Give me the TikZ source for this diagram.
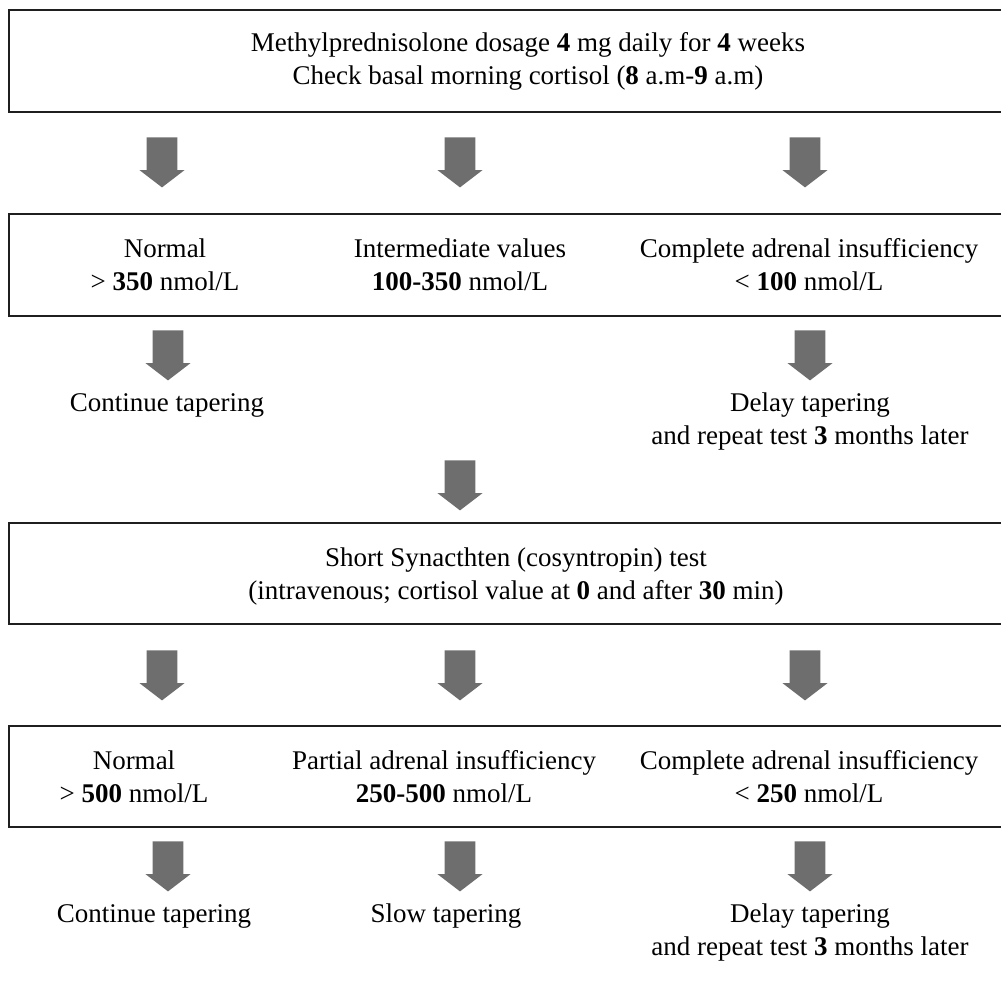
\documentclass[tikz,border=0pt]{standalone}
\usepackage{fontspec}
\setmainfont{Liberation Serif}
\usetikzlibrary{shapes.arrows}
\newcommand{\dg}[1]{\textbf{#1}}
\tikzset{down/.style={single arrow, shape border rotate=270, fill=black!57, draw=none,
    inner sep=7.5pt, minimum height=25pt, minimum width=22pt, anchor=tail,
    single arrow head extend=3.5pt, single arrow tip angle=105, single arrow head indent=0pt},
  frame/.style={minimum width=496pt, minimum height=50.5pt, inner sep=0pt},
  edge/.style={line width=1pt, black!88},
  txt/.style={align=center, inner sep=0pt}}

\begin{document}
\begin{tikzpicture}[x=0.5pt, y=-0.5pt, font=\fontsize{13.5pt}{16.5pt}\selectfont]
  \useasboundingbox (0,0) rectangle (1001,1002);
  % boxes, open at the right edge
  \foreach \b/\y in {b1/61, b2/265, b3/573.5, b4/776.5}{
    \node[frame] (\b) at (505,\y) {};
    \draw[edge] (\b.north east) -- (\b.north west) -- (\b.south west) -- (\b.south east);
  }
  \node[txt] (t1) at (528,61) {Methylprednisolone dosage \dg{4} mg daily for \dg{4} weeks\\Check basal morning cortisol (\dg{8} a.m-\dg{9} a.m)};
  \node[txt] (n1) at (165,265) {Normal\\> \dg{350} nmol/L};
  \node[txt] (i1) at (460,265) {Intermediate values\\\dg{100-350} nmol/L};
  \node[txt] (c1) at (809,265) {Complete adrenal insufficiency\\< \dg{100} nmol/L};
  \node[txt] (t3) at (516,576) {Short Synacthten (cosyntropin) test\\(intravenous; cortisol value at \dg{0} and after \dg{30} min)};
  \node[txt] (n2) at (134,776.5) {Normal\\> \dg{500} nmol/L};
  \node[txt] (p2) at (444,776.5) {Partial adrenal insufficiency\\\dg{250-500} nmol/L};
  \node[txt] (c2) at (809,776.5) {Complete adrenal insufficiency\\< \dg{250} nmol/L};
  % outcomes
  \node[txt] (go1) at (167,405) {Continue tapering};
  \node[txt] (wait1) at (810,421.5) {Delay tapering\\and repeat test \dg{3} months later};
  \node[txt] (go2) at (154,916) {Continue tapering};
  \node[txt] (slow2) at (446,916) {Slow tapering};
  \node[txt] (wait2) at (810,932.5) {Delay tapering\\and repeat test \dg{3} months later};
  % block arrows, placed by their tail
  \foreach \n/\x/\y in {a1/162/137, a2/460/137, a3/805/137, a4/168/330, a5/810/330,
      a6/460/460, a7/162/650, a8/460/650, a9/805/650, a10/168/841, a11/460/841, a12/810/841}
    \node[down] (\n) at (\x,\y) {};
\end{tikzpicture}
\end{document}
